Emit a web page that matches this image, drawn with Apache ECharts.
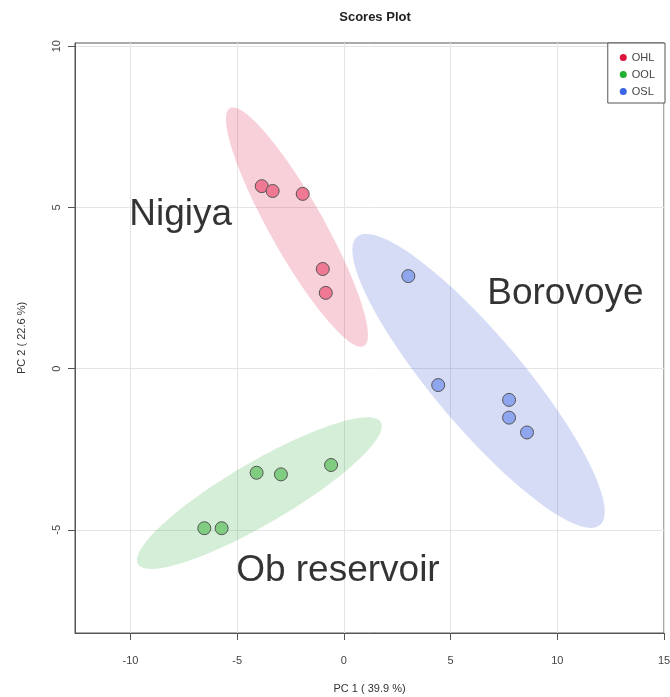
<!DOCTYPE html>
<html>
<head>
<meta charset="utf-8">
<script src="https://cdn.jsdelivr.net/npm/echarts@6/dist/echarts.min.js"></script>
<style>html,body{margin:0;padding:0;background:#fff;}#c{width:670px;height:697px;}</style>
</head>
<body>
<div id="c"></div>
<script>
// ---- data ----
const groupNames = ['OHL', 'OOL', 'OSL'];
const ohlX = [-3.85, -3.34, -1.93, -0.99, -0.85];
const ohlY = [5.66, 5.51, 5.42, 3.09, 2.35];
const oolX = [-6.54, -5.73, -4.09, -2.95, -0.60];
const oolY = [-4.95, -4.95, -3.23, -3.28, -2.99];
const oslX = [3.02, 4.42, 7.74, 7.74, 8.58];
const oslY = [2.87, -0.51, -0.97, -1.52, -1.98];
// confidence ellipses: centre, first semi-axis vector, second semi-axis vector (data units)
const ellipseOHL = [-2.20, 4.39, 3.14, -3.69, -1.10, -0.41];
const ellipseOOL = [-3.96, -3.86, 5.69, 2.20, 0.73, -0.83];
const ellipseOSL = [6.31, -0.38, 5.69, -4.47, -1.61, -0.90];
// group annotations
const annotNames = ['Nigiya', 'Borovoye', 'Ob reservoir'];
const annotX = [-7.65, 10.38, -0.28];
const annotY = [4.76, 2.31, -6.28];
const xTicks = [-10, -5, 0, 5, 10, 15];
const yTicks = [-5, 0, 5, 10];
// ---------------------------------------

const zip = (xs, ys) => xs.map((x, i) => [x, ys[i]]);
const FONT = 'Liberation Sans';

function ellipseSeries(name, params, fill) {
  return {
    type: 'custom',
    name: name + '_ellipse',
    silent: true,
    z: 1,
    data: [params],
    encode: { x: 0, y: 1 },
    renderItem: function (p, api) {
      const cx = api.value(0), cy = api.value(1);
      const ux = api.value(2), uy = api.value(3);
      const vx = api.value(4), vy = api.value(5);
      const pts = [];
      for (let k = 0; k < 120; k++) {
        const t = k / 120 * Math.PI * 2;
        pts.push(api.coord([cx + Math.cos(t) * ux + Math.sin(t) * vx,
                            cy + Math.cos(t) * uy + Math.sin(t) * vy]));
      }
      return { type: 'polygon', shape: { points: pts }, style: { fill: fill } };
    }
  };
}

function pointSeries(name, data, fill) {
  return {
    type: 'scatter',
    name: name,
    z: 3,
    symbol: 'circle',
    symbolSize: 13,
    data: data,
    itemStyle: { color: fill, borderColor: '#555', borderWidth: 1, opacity: 1 }
  };
}

const chart = echarts.init(document.getElementById('c'), null, { renderer: 'canvas' });
chart.setOption({
  animation: false,
  backgroundColor: '#fff',
  textStyle: { fontFamily: FONT },
  title: {
    text: 'Scores Plot',
    left: 370, top: 6, textAlign: 'center',
    textStyle: { fontSize: 13, fontWeight: 'bold', color: '#222', fontFamily: FONT }
  },
  legend: {
    orient: 'vertical',
    right: 5, top: 43,
    padding: [9, 10, 6, 12],
    itemGap: 6,
    itemWidth: 7, itemHeight: 7,
    borderColor: '#555', borderWidth: 1,
    backgroundColor: '#fff',
    textStyle: { fontSize: 11, color: '#444', fontFamily: FONT },
    data: [
      { name: groupNames[0], icon: 'circle', itemStyle: { color: '#dc143c', borderWidth: 0 } },
      { name: groupNames[1], icon: 'circle', itemStyle: { color: '#22b033', borderWidth: 0 } },
      { name: groupNames[2], icon: 'circle', itemStyle: { color: '#3c64e6', borderWidth: 0 } }
    ]
  },
  grid: {
    left: 75, right: 6, top: 43, bottom: 64,
    containLabel: false, outerBoundsMode: 'none',
    show: true, borderColor: '#555', borderWidth: 1
  },
  xAxis: {
    type: 'value', min: -12.6, max: 15, splitNumber: 5,
    name: 'PC 1 ( 39.9 %)', nameLocation: 'middle', nameGap: 50,
    nameTextStyle: { fontSize: 11, color: '#333', fontFamily: FONT },
    axisLine: { show: true, onZero: false, lineStyle: { color: '#555', width: 1 } },
    axisTick: { show: true, length: 7, customValues: xTicks, lineStyle: { color: '#555' } },
    axisLabel: { customValues: xTicks, margin: 22, fontSize: 11, color: '#444', fontFamily: FONT },
    splitLine: { show: true, lineStyle: { color: '#e4e4e4', width: 1 } }
  },
  yAxis: {
    type: 'value', min: -8.2, max: 10.1, splitNumber: 4,
    name: 'PC 2 ( 22.6 %)', nameLocation: 'middle', nameGap: 48,
    nameTextStyle: { fontSize: 11, color: '#333', fontFamily: FONT },
    axisLine: { show: true, onZero: false, lineStyle: { color: '#555', width: 1 } },
    axisTick: { show: true, length: 7, customValues: yTicks, lineStyle: { color: '#555' } },
    axisLabel: { customValues: yTicks, rotate: 90, margin: 13, fontSize: 11, color: '#444', fontFamily: FONT },
    splitLine: { show: true, lineStyle: { color: '#e4e4e4', width: 1 } }
  },
  series: [
    ellipseSeries('OHL', ellipseOHL, 'rgba(222,22,66,0.2)'),
    ellipseSeries('OOL', ellipseOOL, 'rgba(45,170,55,0.2)'),
    ellipseSeries('OSL', ellipseOSL, 'rgba(50,80,210,0.2)'),
    pointSeries(groupNames[0], zip(ohlX, ohlY), '#ef7892'),
    pointSeries(groupNames[1], zip(oolX, oolY), '#80cc80'),
    pointSeries(groupNames[2], zip(oslX, oslY), '#8ea6ee'),
    {
      type: 'scatter',
      name: 'annotations',
      silent: true,
      z: 4,
      symbolSize: 1,
      itemStyle: { color: 'rgba(0,0,0,0)' },
      data: annotNames.map((n, i) => ({ name: n, value: [annotX[i], annotY[i]] })),
      label: {
        show: true, position: 'inside', formatter: '{b}',
        fontSize: 37, color: '#000', textBorderWidth: 0, fontFamily: FONT
      }
    }
  ]
});
</script>
</body>
</html>
